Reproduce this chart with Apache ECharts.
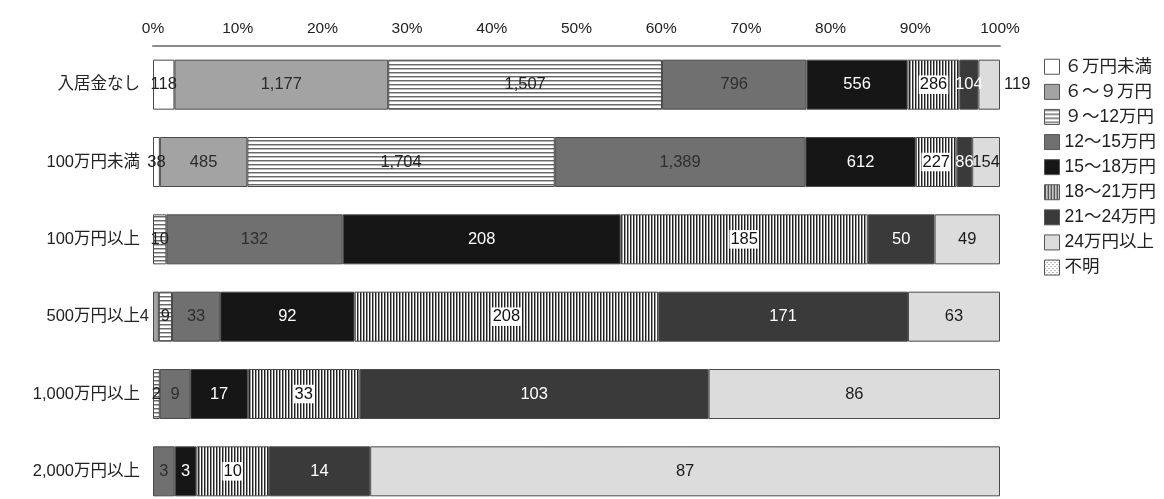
<!DOCTYPE html>
<html>
<head>
<meta charset="utf-8">
<script src="https://cdn.jsdelivr.net/npm/echarts@6/dist/echarts.min.js"></script>
<style>
  html, body { margin: 0; padding: 0; background: #fff; overflow: hidden; }
  #chart { width: 1164px; height: 520px; }
</style>
</head>
<body>
<div id="chart"></div>
<script>
// Entry-fee groups (rows, top to bottom)
const categories = ['入居金なし', '100万円未満', '100万円以上', '500万円以上', '1,000万円以上', '2,000万円以上'];

// Monthly-fee bands (stack order, left to right)
const bandNames = ['６万円未満', '６～９万円', '９～12万円', '12～15万円', '15～18万円', '18～21万円', '21～24万円', '24万円以上', '不明'];

// Counts per band, one value per row
const under6    = [118, 38, null, null, null, null];
const from6to9  = [1177, 485, null, 4, null, null];
const from9to12 = [1507, 1704, 10, 9, 2, null];
const from12to15 = [796, 1389, 132, 33, 9, 3];
const from15to18 = [556, 612, 208, 92, 17, 3];
const from18to21 = [286, 227, 185, 208, 33, 10];
const from21to24 = [104, 86, 50, 171, 103, 14];
const over24    = [119, 154, 49, 63, 86, 87];
const unknown   = [null, null, null, null, null, null];

const xTickLabels = ['0%', '10%', '20%', '30%', '40%', '50%', '60%', '70%', '80%', '90%', '100%'];

const bands = [under6, from6to9, from9to12, from12to15, from15to18, from18to21, from21to24, over24, unknown];

// Row totals -> percentage shares
const totals = categories.map((_, i) => bands.reduce((s, b) => s + (b[i] || 0), 0));
const shares = bands.map(b => b.map((v, i) => v == null ? null : v / totals[i] * 100));

function pattern(w, h, draw) {
  const c = document.createElement('canvas');
  c.width = w; c.height = h;
  const ctx = c.getContext('2d');
  ctx.fillStyle = '#fff';
  ctx.fillRect(0, 0, w, h);
  draw(ctx);
  return { image: c, repeat: 'repeat' };
}
const hStripes = pattern(4, 4, ctx => {
  ctx.fillStyle = '#6a6a6a'; ctx.fillRect(0, 0, 4, 1);
  ctx.fillStyle = '#b8b8b8'; ctx.fillRect(0, 1, 4, 1);
});
const vStripes = pattern(3, 3, ctx => {
  ctx.fillStyle = '#222'; ctx.fillRect(0, 0, 1, 3);
  ctx.fillStyle = '#999'; ctx.fillRect(1, 0, 1, 3);
});
const dots = pattern(4, 4, ctx => {
  ctx.fillStyle = '#777'; ctx.fillRect(0, 0, 1, 1); ctx.fillRect(2, 2, 1, 1);
});

const fills = ['#ffffff', '#a3a3a3', hStripes, '#707070', '#161616', vStripes, '#3a3a3a', '#dcdcdc', dots];
const labelColors = ['#222', '#2a2a2a', '#222', '#2e2e2e', '#fff', '#111', '#fff', '#1a1a1a', '#222'];

const FONT = '"Liberation Sans", "Noto Sans CJK JP", sans-serif';

function fmt(v) {
  return String(v).replace(/\B(?=(\d{3})+(?!\d))/g, ',');
}

// Labels that sit outside their (very thin) segments
const labelPositions = {
  '7-0': { position: 'right', distance: 4 },
  '1-3': { position: 'left', distance: 4 }
};

const series = bandNames.map((name, si) => ({
  name: name,
  type: 'bar',
  stack: 'total',
  barWidth: 50,
  itemStyle: { color: fills[si], borderColor: '#4a4a4a', borderWidth: 1 },
  label: {
    show: true,
    position: 'inside',
    color: labelColors[si],
    fontSize: 16.5,
    fontFamily: FONT,
    backgroundColor: si === 5 ? '#fff' : 'transparent',
    padding: si === 5 ? [1, 1] : 0,
    formatter: p => {
      const v = bands[si][p.dataIndex];
      return v == null ? '' : fmt(v);
    }
  },
  data: shares[si].map((v, di) => {
    const key = si + '-' + di;
    if (labelPositions[key]) {
      return { value: v, label: labelPositions[key] };
    }
    return v;
  })
}));

const chart = echarts.init(document.getElementById('chart'));
chart.setOption({
  animation: false,
  backgroundColor: '#fff',
  // the last row runs past the bottom edge of the visible window
  grid: { left: 153, right: 164, top: 46, bottom: 10, containLabel: false },
  legend: {
    orient: 'vertical',
    left: 1039,
    top: 53,
    itemWidth: 15,
    itemHeight: 15,
    itemGap: 7.6,
    icon: 'rect',
    itemStyle: { borderColor: '#555', borderWidth: 1 },
    textStyle: { fontSize: 17.5, fontFamily: FONT, color: '#222' },
    data: bandNames
  },
  xAxis: {
    type: 'value',
    position: 'top',
    min: 0,
    max: 100,
    interval: 10,
    axisLine: { show: true, lineStyle: { color: '#8a8a8a', width: 2 } },
    axisTick: { show: false },
    splitLine: { show: false },
    axisLabel: {
      margin: 10,
      fontSize: 15.5,
      fontFamily: FONT,
      color: '#222',
      formatter: v => xTickLabels[Math.round(v / 10)]
    }
  },
  yAxis: {
    type: 'category',
    inverse: true,
    data: categories,
    axisLine: { show: false },
    axisTick: { show: false },
    axisLabel: { margin: 13, fontSize: 16.5, fontFamily: FONT, color: '#222' }
  },
  series: series
});
</script>
</body>
</html>
